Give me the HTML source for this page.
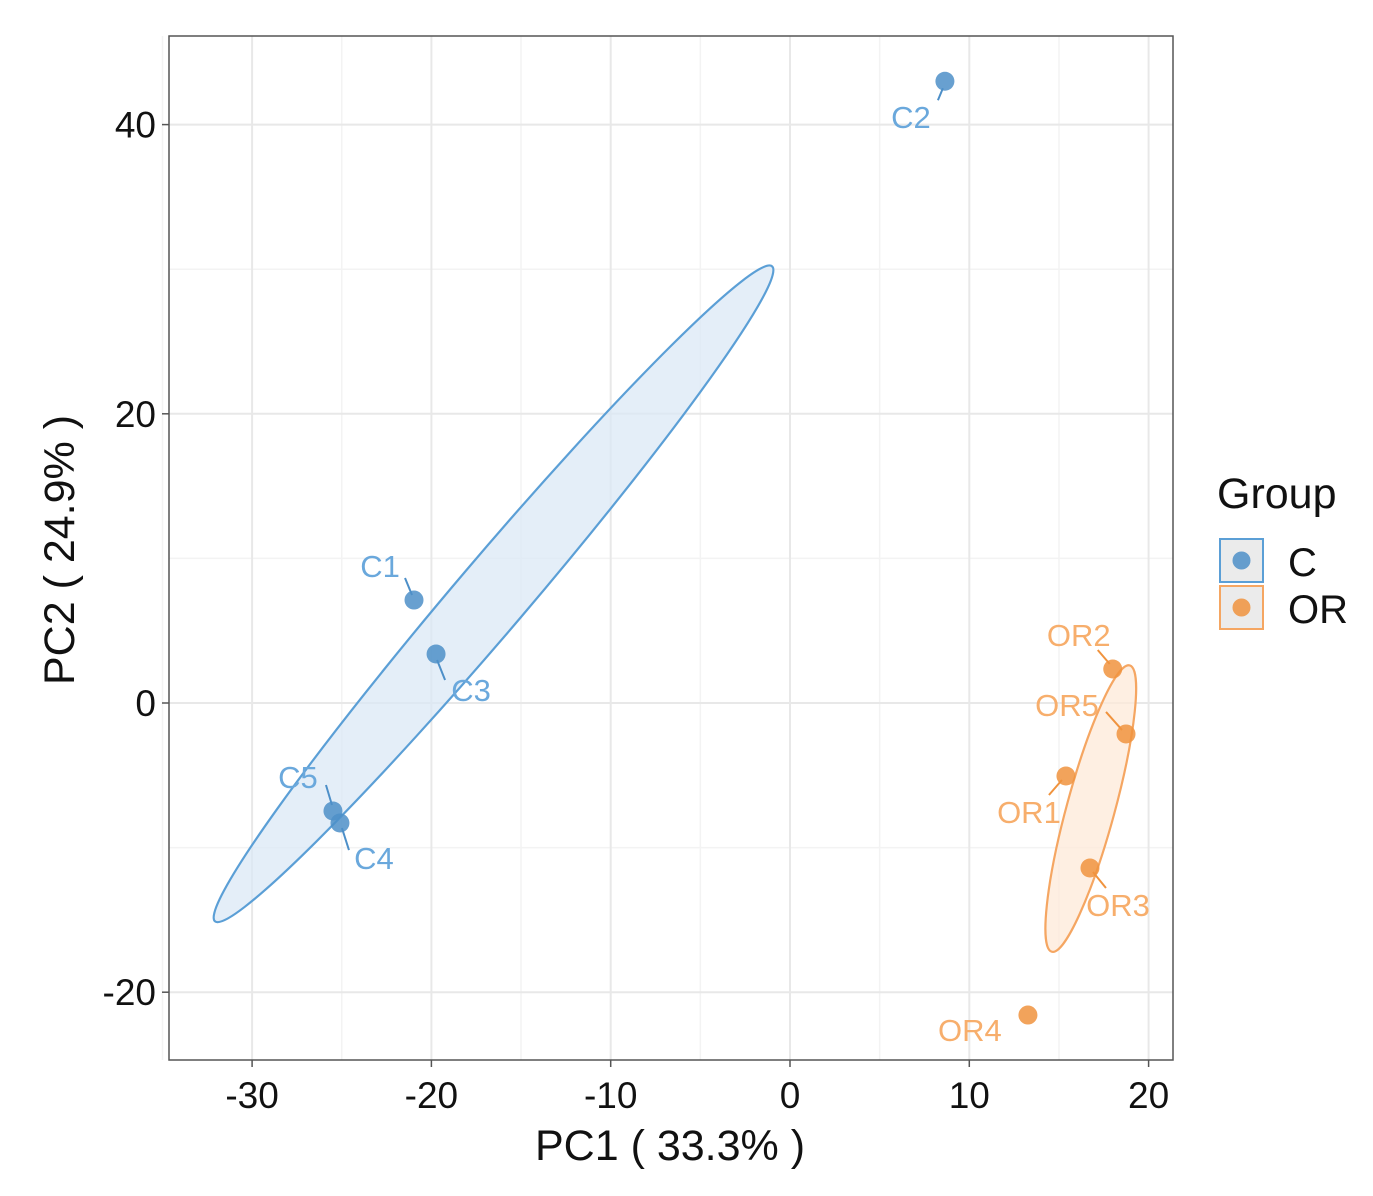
<!DOCTYPE html>
<html><head><meta charset="utf-8"><style>
html,body{margin:0;padding:0;background:#fff;}
svg{display:block;font-family:"Liberation Sans",Arial,sans-serif;}
</style></head><body>
<svg id="chart" width="1373" height="1196" viewBox="0 0 1373 1196">
<g id="grid"></g>
<g id="ellipses"></g>
<g id="points"></g>
<rect x="169" y="36" width="1004" height="1024" fill="none" stroke="#555" stroke-width="1.5"/>
<g id="axes"></g>
<text x="670" y="1160" font-size="43" text-anchor="middle" fill="#111">PC1 ( 33.3% )</text>
<text transform="translate(74,550) rotate(-90)" font-size="43" text-anchor="middle" fill="#111">PC2 ( 24.9% )</text>
<g>
<text x="1217" y="508" font-size="43" fill="#111">Group</text>
<g>
<rect x="1220" y="539" width="43" height="43" fill="#ebebeb" stroke="#5b9fd6" stroke-width="2"/>
<circle cx="1241.5" cy="560.5" r="9" fill="#4d8fc8" fill-opacity="0.85"/>
<text x="1288" y="576" font-size="40" fill="#111">C</text>
</g>
<g>
<rect x="1220" y="586" width="43" height="43" fill="#ebebeb" stroke="#f5a662" stroke-width="2"/>
<circle cx="1241.5" cy="607.5" r="9" fill="#f0933e" fill-opacity="0.85"/>
<text x="1288" y="623" font-size="40" fill="#111">OR</text>
</g>
</g>
</svg>
<script>
const names=["C1","C2","C3","C4","C5","OR1","OR2","OR3","OR4","OR5"];
const groups=["C","C","C","C","C","OR","OR","OR","OR","OR"];
const pc1=[-20.97,8.64,-19.74,-25.1,-25.49,15.39,18.0,16.73,13.27,18.74];
const pc2=[7.12,43.0,3.39,-8.3,-7.47,-5.05,2.35,-11.41,-21.58,-2.14];
const xTicks=[-30,-20,-10,0,10,20];
const yTicks=[-20,0,20,40];
// ellipse ends in data units
const ellGroups=["C","OR"];
const ellEndA_x=[-32.07,14.60];
const ellEndA_y=[-15.1,-17.2];
const ellEndB_x=[-1.0,18.95];
const ellEndB_y=[30.2,2.6];

const X=v=>790+v*17.93;
const Y=v=>703-v*14.46;
const NS="http://www.w3.org/2000/svg";
function mk(tag,attrs,parent){const e=document.createElementNS(NS,tag);for(const k in attrs)e.setAttribute(k,attrs[k]);parent.appendChild(e);return e;}
const col={C:{pt:"#4d8fc8",lab:"#6aa8dc",line:"#5b9fd6",fill:"#dbe8f5"},OR:{pt:"#f0933e",lab:"#f7ae6c",line:"#f5a662",fill:"#fde9d8"}};
const grid=document.getElementById('grid'),axes=document.getElementById('axes');
for(let v=-35;v<=20;v+=5){if(v%10!==0){const l=mk('line',{x1:X(v),x2:X(v),y1:36,y2:1060,stroke:"#f3f3f3","stroke-width":1.5},grid);}}
for(let v=-30;v<=50;v+=10){if(v%20!==0&&Y(v)>36&&Y(v)<1060){const l=mk('line',{x1:169,x2:1173,y1:Y(v),y2:Y(v),stroke:"#f3f3f3","stroke-width":1.5},grid);}}
xTicks.forEach(v=>{const l=mk('line',{x1:X(v),x2:X(v),y1:36,y2:1060,stroke:"#e8e8e8","stroke-width":2},grid);
const t=mk('line',{x1:X(v),x2:X(v),y1:1060,y2:1067,stroke:"#555","stroke-width":1.5},axes);
const tx=mk('text',{x:X(v),y:1108,"font-size":37,"text-anchor":"middle",fill:"#111"},axes);tx.textContent=v;});
yTicks.forEach(v=>{const l=mk('line',{x1:169,x2:1173,y1:Y(v),y2:Y(v),stroke:"#e8e8e8","stroke-width":2},grid);
const t=mk('line',{x1:162,x2:169,y1:Y(v),y2:Y(v),stroke:"#555","stroke-width":1.5},axes);
const tx=mk('text',{x:156,y:Y(v)+13,"font-size":37,"text-anchor":"end",fill:"#111"},axes);tx.textContent=v;});
const minorHalf={C:36,OR:24};
const eg=document.getElementById('ellipses');
ellGroups.forEach((g,i)=>{const ax=X(ellEndA_x[i]),ay=Y(ellEndA_y[i]),bx=X(ellEndB_x[i]),by=Y(ellEndB_y[i]);
const cx=(ax+bx)/2,cy=(ay+by)/2,rx=Math.hypot(bx-ax,by-ay)/2,ang=Math.atan2(by-ay,bx-ax)*180/Math.PI;
const e=mk('ellipse',{cx:cx,cy:cy,rx:rx,ry:minorHalf[g],transform:`rotate(${ang} ${cx} ${cy})`,fill:col[g].fill,"fill-opacity":0.75,stroke:col[g].line,"stroke-width":2.2},eg);
});
const labDx={C1:-34,C2:-34,C3:35,C4:34,C5:-35,OR1:-37,OR2:-34,OR3:28,OR4:-58,OR5:-59};
const labDy={C1:-34,C2:36,C3:36,C4:35,C5:-34,OR1:36,OR2:-34,OR3:37,OR4:15,OR5:-29};
const lnA={C1:[-9,-22],C2:[-7,19],C3:[1,6],C4:[2,5],C5:[-7,-26],OR1:[-17,19],OR2:[-15,-19],OR3:[3,4],OR4:null,OR5:[-20,-22]};
const lnB={C1:[-2,-5],C2:[-2,7],C3:[9,26],C4:[9,27],C5:[-1,-6],OR1:[-4,4],OR2:[-3,-5],OR3:[16,20],OR4:null,OR5:[-4,-4]};
const pg=document.getElementById('points');
names.forEach((n,i)=>{const g=groups[i],px=X(pc1[i]),py=Y(pc2[i]);
if(lnA[n]){const l=mk('line',{x1:px+lnA[n][0],y1:py+lnA[n][1],x2:px+lnB[n][0],y2:py+lnB[n][1],stroke:col[g].pt,"stroke-width":2},pg);}
const c=mk('circle',{cx:px,cy:py,r:9.5,fill:col[g].pt,"fill-opacity":0.85},pg);


const t=mk('text',{x:px+labDx[n],y:py+labDy[n]+11,"font-size":31,"text-anchor":"middle",fill:col[g].lab},pg);t.textContent=n;

});
</script>
</body></html>
